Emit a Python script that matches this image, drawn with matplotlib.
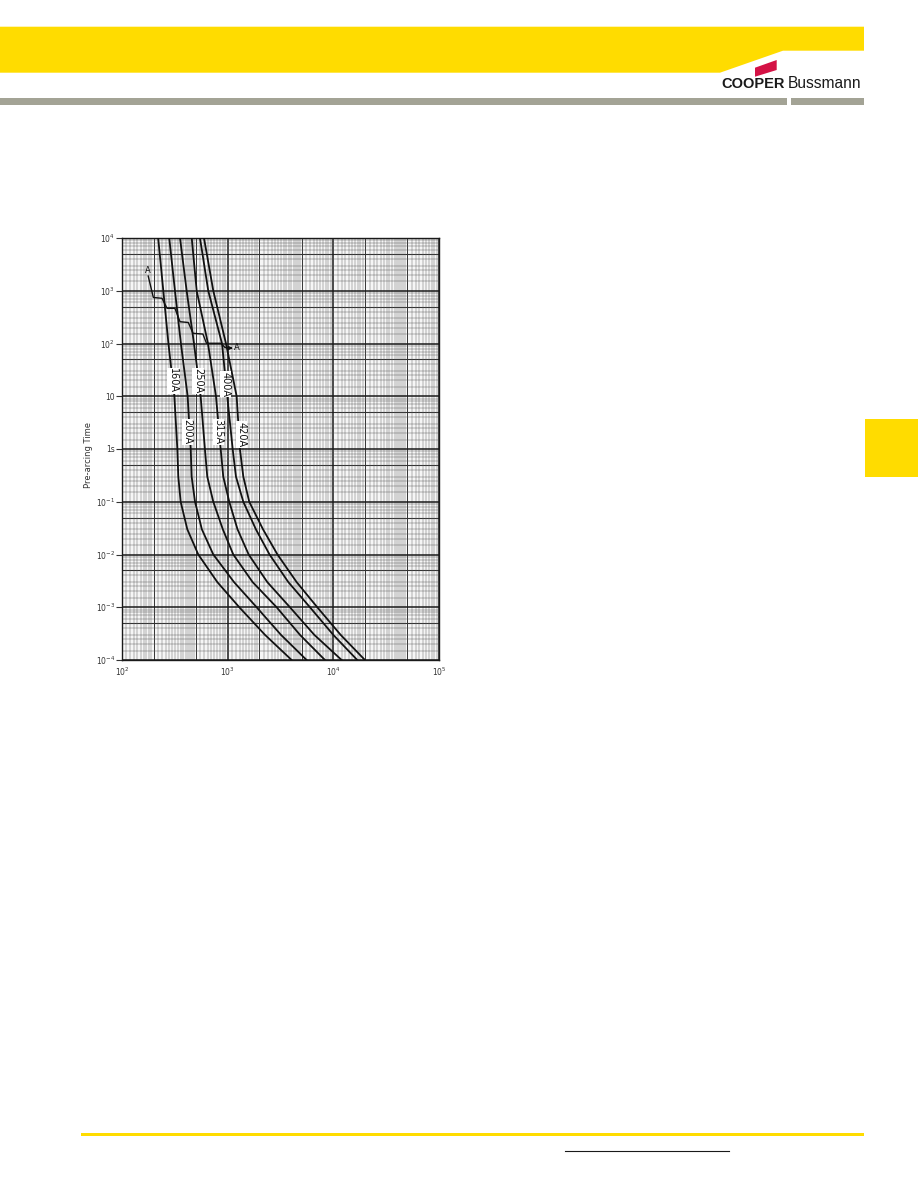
import numpy as np
import matplotlib
matplotlib.use("Agg")
import matplotlib.pyplot as plt
from matplotlib.patches import Polygon, Rectangle
from matplotlib.ticker import FixedLocator, NullFormatter

# pre-arcing time (s) at which each curve was read
times = [1e4, 1e3, 1e2, 10, 1, 0.3, 0.1, 0.03, 0.01, 3e-3, 1e-3, 3e-4, 1e-4]

# prospective current (A) at those times
curves = {
    "160A": [220, 246, 275, 313, 334, 341, 359, 415, 527, 798, 1288, 2254, 4030],
    "200A": [280, 317, 361, 418, 447, 456, 491, 570, 731, 1148, 1880, 3193, 5585],
    "250A": [354, 409, 480, 555, 609, 641, 731, 900, 1130, 1722, 2906, 4831, 8329],
    "315A": [457, 509, 651, 775, 859, 908, 1035, 1240, 1580, 2371, 3884, 6601, 11980],
    "400A": [547, 655, 884, 991, 1115, 1198, 1406, 1850, 2490, 3748, 6006, 9980, 16840],
    "420A": [597, 731, 964, 1216, 1306, 1406, 1600, 2160, 2960, 4493, 7046, 11720, 19910],
}

# where the rating labels sit on the curves (current, time)
label_pos = {
    "160A": (304, 19.5),
    "250A": (523, 19.5),
    "400A": (953, 17),
    "200A": (418, 2.1),
    "315A": (815, 2.1),
    "420A": (1355, 1.9),
}

# stepped A-A line
aa_current = [177, 198, 239, 267, 317, 354, 424, 470, 583, 630, 865, 943, 1060]
aa_time = [1900, 745, 720, 464, 464, 259, 250, 156, 151, 101, 101, 84, 82]

x_ticks = [1e2, 1e3, 1e4, 1e5]
x_labels = ["$10^{2}$", "$10^{3}$", "$10^{4}$", "$10^{5}$"]
y_ticks = [1e4, 1e3, 1e2, 10, 1, 1e-1, 1e-2, 1e-3, 1e-4]
y_labels = ["$10^{4}$", "$10^{3}$", "$10^{2}$", "10", "1s",
            "$10^{-1}$", "$10^{-2}$", "$10^{-3}$", "$10^{-4}$"]

W, H = 918, 1188
fig = plt.figure(figsize=(W / 100, H / 100), dpi=100)

# page furniture in pixel coordinates
deco = fig.add_axes([0, 0, 1, 1], zorder=-1)
deco.set_xlim(0, W)
deco.set_ylim(H, 0)
deco.axis("off")
yellow = "#FFDC00"
deco.add_patch(Polygon([(0, 26.7), (864, 26.7), (864, 50.7), (783, 50.7),
                        (720, 72.7), (0, 72.7)], closed=True, fc=yellow, ec="none"))
deco.add_patch(Rectangle((0, 98), 786.7, 7, fc="#A3A395", ec="none"))
deco.add_patch(Rectangle((791, 98), 73, 7, fc="#A3A395", ec="none"))
deco.add_patch(Polygon([(755, 67.7), (776.7, 60), (776.7, 70), (755, 76.7)],
                       closed=True, fc="#D41245", ec="none"))
deco.text(721.5, 88.5, "COOPER", fontsize=10.5, fontweight="heavy",
          family="Liberation Sans", color="#1a1a1a", va="baseline", ha="left")
deco.text(788, 88.5, "Bussmann", fontsize=11.2, family="Liberation Sans",
          color="#1a1a1a", va="baseline", ha="left")
deco.add_patch(Rectangle((865, 419), 53, 58, fc=yellow, ec="none"))
deco.add_patch(Rectangle((81, 1132.7), 783, 3.3, fc=yellow, ec="none"))
deco.plot([565, 729], [1151.3, 1151.3], color="#1a1a1a", lw=0.8)

# the chart
ax = fig.add_axes([122 / W, (H - 660) / H, 317 / W, 422 / H])
ax.set_xscale("log")
ax.set_yscale("log")
ax.set_xlim(1e2, 1e5)
ax.set_ylim(1e-4, 1e4)
ax.set_facecolor("#f6f6f6")

# graph paper
xdec = [1e2, 1e3, 1e4]
ydec = [10.0 ** k for k in range(-4, 4)]
xfine = list(np.arange(1.1, 2.0, 0.1)) + list(np.arange(2.2, 5.0, 0.2)) + list(np.arange(5.5, 10, 0.5))
yfine = [1.5, 2, 2.5, 3, 4, 6, 7, 8, 9]
ax.xaxis.set_minor_locator(FixedLocator([d * s for d in xdec for s in xfine]))
ax.yaxis.set_minor_locator(FixedLocator([d * s for d in ydec for s in yfine]))
ax.xaxis.set_minor_formatter(NullFormatter())
ax.yaxis.set_minor_formatter(NullFormatter())
ax.grid(which="minor", color="#5a5a5a", lw=0.32)
ax.grid(which="major", color="#1a1a1a", lw=1.1)
for d in xdec:
    for s in (2, 5):
        ax.axvline(d * s, color="#333333", lw=0.7, zorder=1)
for d in ydec:
    ax.axhline(d * 5, color="#333333", lw=0.8, zorder=1)
ax.tick_params(which="minor", length=0)
ax.tick_params(axis="x", which="major", length=0, pad=4, labelsize=5.5, colors="#333333")
ax.tick_params(axis="y", which="major", length=4, width=0.8, pad=1, labelsize=5.5, colors="#333333")
ax.set_xticks(x_ticks)
ax.set_xticklabels(x_labels)
ax.set_yticks(y_ticks)
ax.set_yticklabels(y_labels)
for sp in ax.spines.values():
    sp.set_color("#1a1a1a")
    sp.set_linewidth(1.0)

for name, cur in curves.items():
    ax.plot(cur, times, color="#111111", lw=1.3, zorder=3)
    lx, ly = label_pos[name]
    ax.text(lx, ly, name, rotation=270, fontsize=7, ha="center", va="center",
            color="#111111", zorder=4,
            bbox=dict(fc="white", ec="none", pad=0.5))

ax.plot(aa_current, aa_time, color="#111111", lw=1.0, zorder=3)
ax.annotate("", xy=(1120, 82), xytext=(1000, 82),
            arrowprops=dict(arrowstyle="-|>", color="#111111", lw=0.8,
                            mutation_scale=6), zorder=4)
ax.text(1150, 83, "A", fontsize=6, ha="left", va="center", color="#111111", zorder=4)
ax.text(176, 2000, "A", fontsize=6, ha="center", va="bottom", color="#111111", zorder=4)

ax.set_ylabel("Pre-arcing Time", fontsize=6, color="#333333")
ax.yaxis.set_label_coords(-(122 - 93) / 317, (660 - 455) / 422)

fig.savefig("out.png", dpi=100)
